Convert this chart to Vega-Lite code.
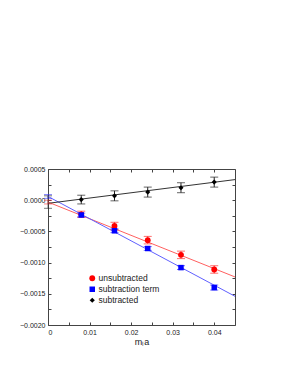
{
  "$schema": "https://vega.github.io/schema/vega-lite/v6.json",
  "autosize": "none",
  "width": 187,
  "height": 156,
  "padding": {"left": 48, "top": 169, "right": 49, "bottom": 42},
  "background": "white",
  "config": {
    "view": {"stroke": null},
    "font": "Liberation Sans",
    "axis": {"grid": false, "domainColor": "#444", "tickColor": "#444", "labelColor": "#222", "labelFontSize": 7, "titleFontWeight": "normal", "titleColor": "#222"}
  },
  "datasets": {
    "pts": [
      {"series": "unsubtracted", "x": 0.008, "y": -0.000226, "lo": -0.000276, "hi": -0.000176},
      {"series": "unsubtracted", "x": 0.016, "y": -0.000414, "lo": -0.000474, "hi": -0.000354},
      {"series": "unsubtracted", "x": 0.024, "y": -0.00064, "lo": -0.0007, "hi": -0.00058},
      {"series": "unsubtracted", "x": 0.032, "y": -0.000876, "lo": -0.000936, "hi": -0.000816},
      {"series": "unsubtracted", "x": 0.04, "y": -0.00111, "lo": -0.00117, "hi": -0.00105},
      {"series": "subtraction term", "x": 0.008, "y": -0.000237, "lo": -0.000267, "hi": -0.000207},
      {"series": "subtraction term", "x": 0.016, "y": -0.00049, "lo": -0.00052, "hi": -0.00046},
      {"series": "subtraction term", "x": 0.024, "y": -0.000774, "lo": -0.000804, "hi": -0.000744},
      {"series": "subtraction term", "x": 0.032, "y": -0.00108, "lo": -0.00111, "hi": -0.00105},
      {"series": "subtraction term", "x": 0.04, "y": -0.0014, "lo": -0.00144, "hi": -0.00136},
      {"series": "subtracted", "x": 0.008, "y": 0.00001, "lo": -0.00006, "hi": 0.00008},
      {"series": "subtracted", "x": 0.016, "y": 0.00007, "lo": -0.00001, "hi": 0.00015},
      {"series": "subtracted", "x": 0.024, "y": 0.00013, "lo": 0.00005, "hi": 0.00021},
      {"series": "subtracted", "x": 0.032, "y": 0.0002, "lo": 0.00012, "hi": 0.00028},
      {"series": "subtracted", "x": 0.04, "y": 0.00029, "lo": 0.00021, "hi": 0.00037}
    ],
    "extrap": [
      {"series": "unsubtracted", "x": 0, "lo": -0.00006, "hi": 0.0},
      {"series": "subtraction term", "x": 0, "lo": 0.00003, "hi": 0.00009},
      {"series": "subtracted", "x": 0, "lo": -0.00013, "hi": 0.00007}
    ],
    "fits": [
      {"series": "unsubtracted", "x": 0, "y": -0.00003},
      {"series": "unsubtracted", "x": 0.045, "y": -0.00123},
      {"series": "subtraction term", "x": 0, "y": 0.00006},
      {"series": "subtraction term", "x": 0.045, "y": -0.00154},
      {"series": "subtracted", "x": 0, "y": -0.00005},
      {"series": "subtracted", "x": 0.045, "y": 0.00033}
    ]
  },
  "resolve": {"axis": {"x": "independent", "y": "independent"}, "scale": {"color": "independent", "size": "independent", "shape": "independent"}, "legend": {"color": "independent"}},
  "layer": [
    {
      "data": {"name": "fits"},
      "mark": {"type": "line", "strokeWidth": 1, "clip": true},
      "encoding": {
        "x": {"field": "x", "type": "quantitative", "scale": {"domain": [0, 0.045], "nice": false},
          "axis": {"orient": "bottom", "title": "mₗa", "titleFontSize": 9, "titlePadding": 2, "values": [0, 0.005, 0.01, 0.015, 0.02, 0.025, 0.03, 0.035, 0.04], "labelExpr": "datum.value == 0 ? '0' : (round(datum.value*1000) % 10 == 0 ? format(datum.value, '.2f') : '')", "tickSize": -3, "labelPadding": 6}},
        "y": {"field": "y", "type": "quantitative", "scale": {"domain": [-0.002, 0.0005], "nice": false},
          "axis": {"orient": "left", "title": null, "values": [-0.002, -0.00175, -0.0015, -0.00125, -0.001, -0.00075, -0.0005, -0.00025, 0, 0.00025, 0.0005], "labelExpr": "round(datum.value*10000) % 5 == 0 ? format(datum.value, '.4f') : ''", "tickSize": -3, "labelPadding": 6}},
        "color": {"field": "series", "type": "nominal", "scale": {"domain": ["unsubtracted", "subtraction term", "subtracted"], "range": ["#ff6060", "#6060ff", "#333333"]}, "legend": null},
        "detail": {"field": "series"}
      }
    },
    {
      "data": {"name": "pts"},
      "mark": {"type": "errorbar", "ticks": {"size": 8}, "thickness": 1},
      "encoding": {
        "x": {"field": "x", "type": "quantitative", "axis": {"orient": "top", "title": null, "labels": false, "values": [0, 0.005, 0.01, 0.015, 0.02, 0.025, 0.03, 0.035, 0.04], "tickSize": -3}},
        "y": {"field": "lo", "type": "quantitative", "axis": {"orient": "right", "title": null, "labels": false, "values": [-0.002, -0.00175, -0.0015, -0.00125, -0.001, -0.00075, -0.0005, -0.00025, 0, 0.00025, 0.0005], "tickSize": -3}},
        "y2": {"field": "hi"},
        "color": {"field": "series", "type": "nominal", "scale": {"domain": ["unsubtracted", "subtraction term", "subtracted"], "range": ["#ff3030", "#3030ff", "#222222"]}, "legend": null}
      }
    },
    {
      "data": {"name": "extrap"},
      "mark": {"type": "errorbar", "ticks": {"size": 8}, "thickness": 1, "opacity": 0.6},
      "encoding": {
        "x": {"field": "x", "type": "quantitative", "axis": null},
        "y": {"field": "lo", "type": "quantitative", "axis": null},
        "y2": {"field": "hi"},
        "color": {"field": "series", "type": "nominal", "scale": {"domain": ["unsubtracted", "subtraction term", "subtracted"], "range": ["#ff3030", "#3030ff", "#222222"]}, "legend": null}
      }
    },
    {
      "data": {"name": "pts"},
      "mark": {"type": "point", "filled": true, "opacity": 1},
      "encoding": {
        "x": {"field": "x", "type": "quantitative", "axis": null},
        "y": {"field": "y", "type": "quantitative", "axis": null},
        "color": {"field": "series", "type": "nominal", "scale": {"domain": ["unsubtracted", "subtraction term", "subtracted"], "range": ["#ff0000", "#0000ff", "#000000"]},
          "legend": {"orient": "none", "legendX": 40, "legendY": 105, "title": null, "labelFontSize": 8.5, "labelColor": "#222", "symbolSize": 30, "rowPadding": 2, "labelOffset": 2}},
        "shape": {"field": "series", "type": "nominal", "scale": {"domain": ["unsubtracted", "subtraction term", "subtracted"], "range": ["circle", "square", "diamond"]}},
        "size": {"field": "series", "type": "nominal", "scale": {"domain": ["unsubtracted", "subtraction term", "subtracted"], "range": [34, 26, 26]}, "legend": null}
      }
    }
  ]
}
